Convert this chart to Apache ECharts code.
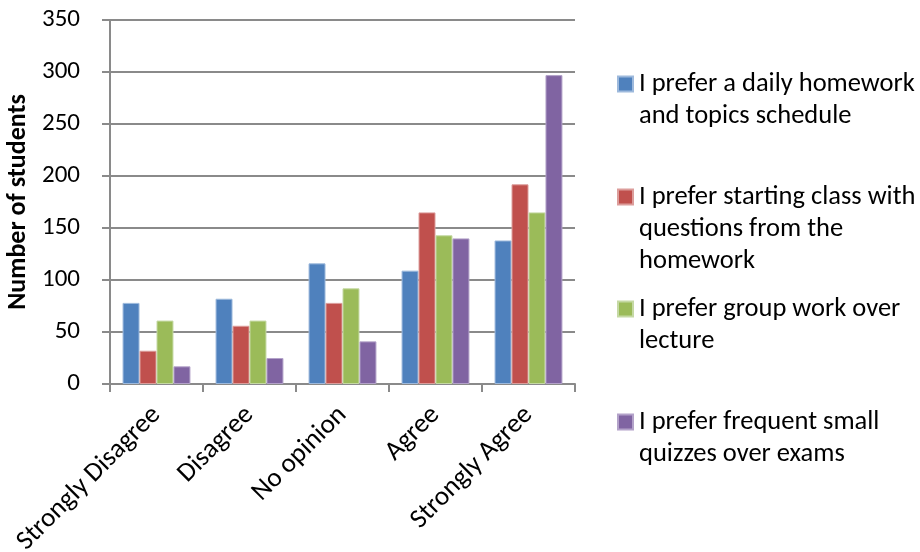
<!DOCTYPE html>
<html>
<head>
<meta charset="utf-8">
<script src="https://cdn.jsdelivr.net/npm/echarts@6/dist/echarts.min.js"></script>
<style>
  html, body { margin: 0; padding: 0; background: #fff; }
  #chart { width: 920px; height: 552px; }
</style>
</head>
<body>
<div id="chart"></div>
<script>
// Survey responses
const categories = ['Strongly Disagree', 'Disagree', 'No opinion', 'Agree', 'Strongly Agree'];
const seriesNames = [
  'I prefer a daily homework and topics schedule',
  'I prefer starting class with questions from the homework',
  'I prefer group work over lecture',
  'I prefer frequent small quizzes over exams'
];
// Legend text, wrapped as it is shown
const legendLines = [
  ['I prefer a daily homework', 'and topics schedule'],
  ['I prefer starting class with', 'questions from the', 'homework'],
  ['I prefer group work over', 'lecture'],
  ['I prefer frequent small', 'quizzes over exams']
];
const dailySchedule = [78, 82, 116, 109, 138];
const questionsFirst = [32, 56, 78, 165, 192];
const groupWork = [61, 61, 92, 143, 165];
const smallQuizzes = [17, 25, 41, 140, 297];
const yTicks = { min: 0, max: 350, interval: 50 };

const values = [dailySchedule, questionsFirst, groupWork, smallQuizzes];
const colors = ['#4F81BD', '#C0504D', '#9BBB59', '#8064A2'];
const edgeColors = ['#9db9dc', '#dc9d9b', '#c5d9a4', '#b3a2c9'];
const FONT = 'Carlito, Lato, sans-serif';
const LH = 32;
// line-1 centre of each legend entry
const legendLineOne = [84, 197, 309, 422];

const chart = echarts.init(document.getElementById('chart'), null, { renderer: 'canvas' });

const legends = seriesNames.map((name, i) => {
  const n = legendLines[i].length;
  // blank lines above keep the marker level with the first text line
  const text = '\n'.repeat(n - 1) + legendLines[i].join('\n');
  return {
    data: [name],
    left: 612,
    top: legendLineOne[i] - (2 * n - 1) * LH / 2 - 5,
    orient: 'vertical',
    itemWidth: 15,
    itemHeight: 15,
    itemGap: 0,
    icon: 'rect',
    selectedMode: false,
    formatter: () => text,
    textStyle: { fontFamily: FONT, fontSize: 26.5, color: '#000', lineHeight: LH, padding: [0, 0, 0, 1] }
  };
});

chart.setOption({
  animation: false,
  backgroundColor: '#fff',
  color: colors,
  grid: { left: 110, right: 345, top: 20, bottom: 168, containLabel: false, outerBoundsMode: 'none' },
  legend: legends,
  xAxis: {
    type: 'category',
    data: categories,
    axisLine: { lineStyle: { color: '#8a8a8a', width: 2 } },
    axisTick: { show: true, length: 8, alignWithLabel: false, lineStyle: { color: '#8a8a8a', width: 2 } },
    axisLabel: { rotate: 45, margin: 27, fontFamily: FONT, fontSize: 27, color: '#000', interval: 0, hideOverlap: false },
    splitLine: { show: false }
  },
  yAxis: {
    type: 'value',
    min: yTicks.min,
    max: yTicks.max,
    interval: yTicks.interval,
    name: 'Number of students',
    nameLocation: 'middle',
    nameGap: 67,
    nameTextStyle: { fontFamily: FONT, fontSize: 26, fontWeight: 'bold', color: '#000' },
    axisLine: { show: true, lineStyle: { color: '#8a8a8a', width: 2 } },
    axisTick: { show: true, length: 8, lineStyle: { color: '#8a8a8a', width: 2 } },
    axisLabel: { margin: 30, fontFamily: FONT, fontSize: 25, color: '#000' },
    splitLine: { show: true, lineStyle: { color: '#8a8a8a', width: 2 } }
  },
  series: values.map((v, i) => ({
    name: seriesNames[i],
    type: 'bar',
    data: v,
    barGap: '0%',
    barCategoryGap: '27%',
    itemStyle: { color: colors[i], borderColor: edgeColors[i], borderWidth: 1 }
  }))
});
</script>
</body>
</html>
